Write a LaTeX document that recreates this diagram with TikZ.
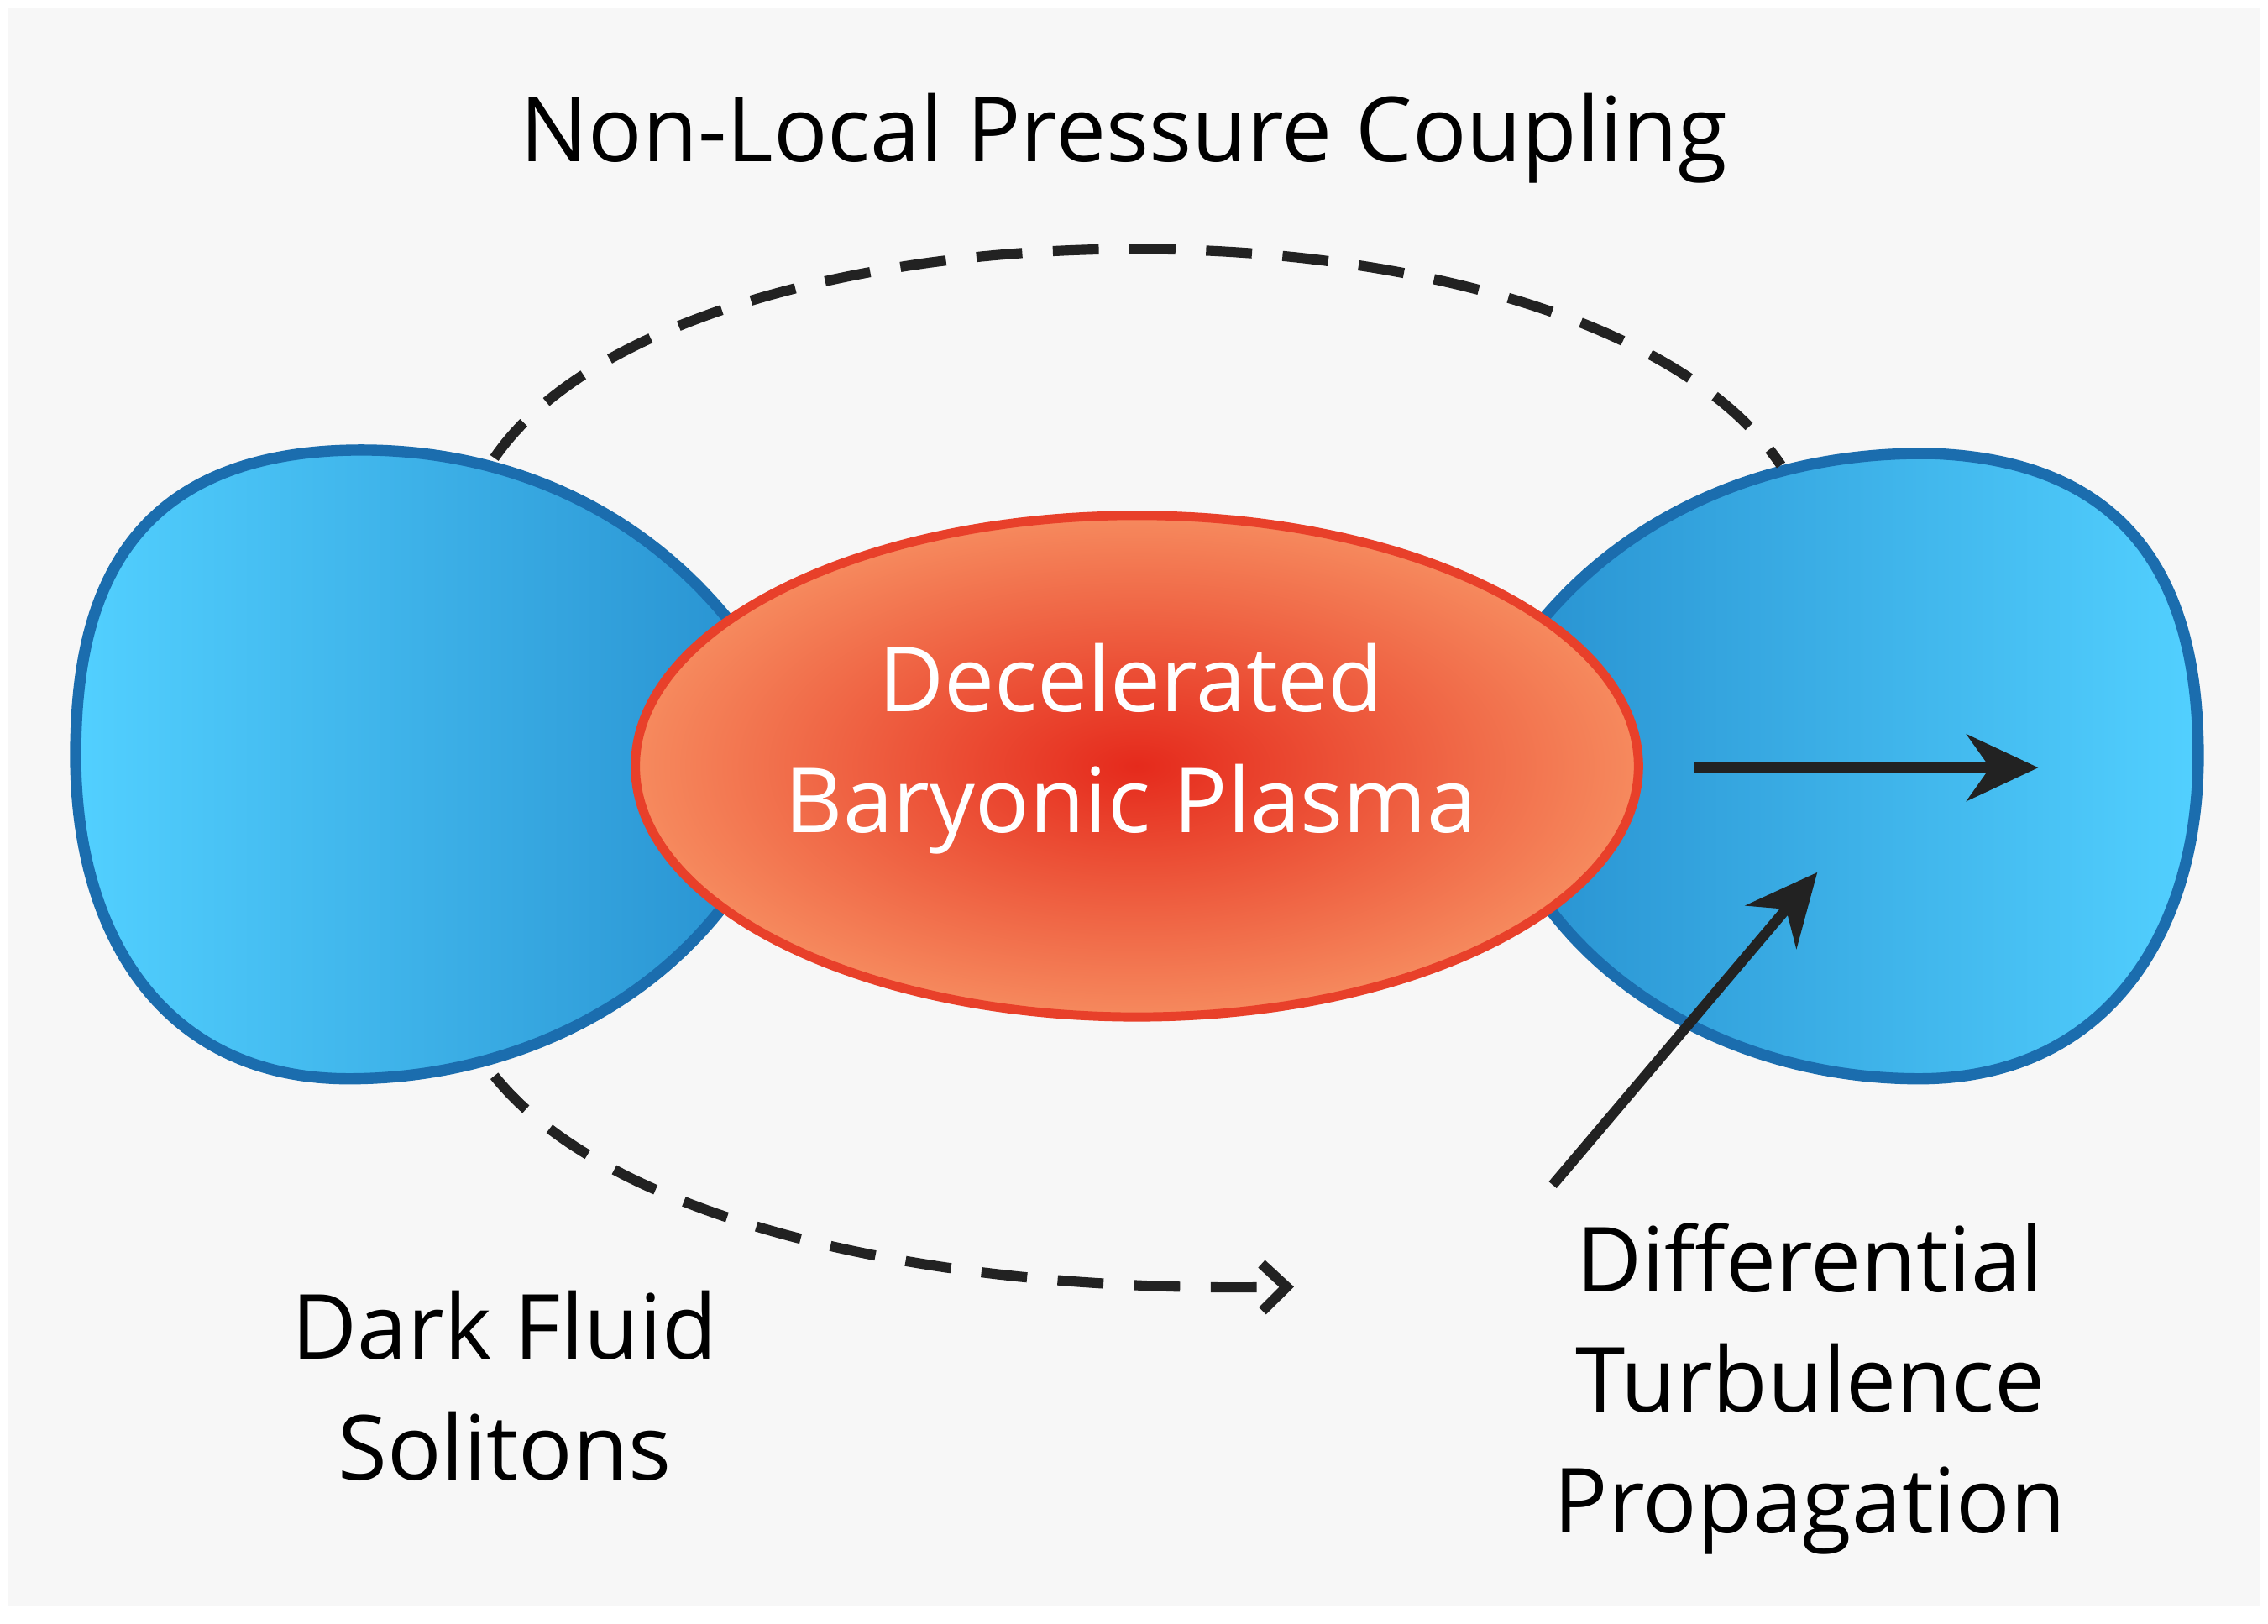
\documentclass[tikz,border=0pt]{standalone}
\usepackage{fontspec}
\setmainfont{Open Sans}
\usetikzlibrary{arrows.meta,shapes.geometric}
\definecolor{bg}{HTML}{F7F7F7}
\definecolor{blueedge}{HTML}{1B6DAE}
\definecolor{bluelight}{HTML}{52D0FF}
\definecolor{bluedark}{HTML}{2A95D3}
\definecolor{redc}{HTML}{E52A1C}
\definecolor{redo}{HTML}{F68A5E}
\definecolor{rededge}{HTML}{E8402A}
\definecolor{ink}{HTML}{222222}
\tikzset{
  blob/.style={draw=blueedge,line width=11pt},
  mydash/.style={draw=ink,line width=10pt,dash pattern=on 45pt off 30pt},
  arr/.style={draw=ink,line width=10pt,-{Stealth[length=70pt,width=65pt]}},
  lbl/.style={font=\fontsize{88}{118}\selectfont,text=black,align=center},
}
\begin{document}
\begin{tikzpicture}[x=0.05cm,y=-0.05cm]
\useasboundingbox (0,0) rectangle (1560,1117);
\fill[white] (0,0) rectangle (1560,1117);
\fill[bg] (5,5) rectangle (1555,1105);
% left blob
\shade[left color=bluelight,right color=bluedark]
 (500,425) .. controls (430,340) and (330,305) .. (230,310)
 .. controls (80,318) and (52,420) .. (52,520)
 .. controls (52,640) and (110,742) .. (240,742)
 .. controls (340,742) and (440,700) .. (500,620) -- cycle;
\draw[blob]
 (500,425) .. controls (430,340) and (330,305) .. (230,310)
 .. controls (80,318) and (52,420) .. (52,520)
 .. controls (52,640) and (110,742) .. (240,742)
 .. controls (340,742) and (440,700) .. (500,620);
% right blob
\shade[left color=bluedark,right color=bluelight]
 (1062,425) .. controls (1130,345) and (1230,310) .. (1330,312)
 .. controls (1480,318) and (1512,420) .. (1512,520)
 .. controls (1512,640) and (1450,742) .. (1320,742)
 .. controls (1220,742) and (1120,700) .. (1062,620) -- cycle;
\draw[blob]
 (1062,425) .. controls (1130,345) and (1230,310) .. (1330,312)
 .. controls (1480,318) and (1512,420) .. (1512,520)
 .. controls (1512,640) and (1450,742) .. (1320,742)
 .. controls (1220,742) and (1120,700) .. (1062,620);
% ellipse
\node[ellipse,minimum width=690*0.05cm,minimum height=345*0.05cm,inner color=redc,outer color=redo,draw=rededge,line width=9pt] (plasma) at (782,527) {};
\node[lbl,text=white] (ptext) at (778,515) {Decelerated\\Baryonic Plasma};
% labels
\node[lbl] (title) at (773,95) {Non-Local Pressure Coupling};
\node[lbl] (dark) at (347,953) {Dark Fluid\\Solitons};
\node[lbl] (diff) at (1245,955) {Differential\\Turbulence\\Propagation};
% connectors
\coordinate (t1) at (340,315); \coordinate (t2) at (1225,320);
\draw[mydash] (t1) .. controls (470,125) and (1090,120) .. (t2);
\coordinate (b1) at (340,740); \coordinate (b2) at (890,885);
\draw[mydash,-{Straight Barb[length=24pt,width=46pt]}] (b1) .. controls (420,840) and (640,890) .. (b2);
\coordinate (a1) at (1165,528); \coordinate (a2) at (1402,528);
\draw[arr] (a1) -- (a2);
\coordinate (c1) at (1068,815); \coordinate (c2) at (1250,600);
\draw[arr] (c1) -- (c2);
\end{tikzpicture}
\end{document}
